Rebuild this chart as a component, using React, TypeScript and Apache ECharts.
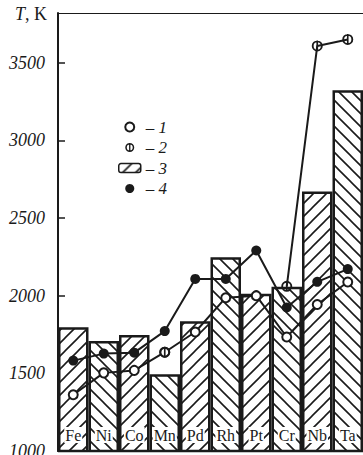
import React, { useEffect, useRef } from "react";
import * as echarts from "echarts";

const categories = ["Fe", "Ni", "Co", "Mn", "Pd", "Rh", "Pt", "Cr", "Nb", "Ta"];
const barValues = [1797, 1709, 1747, 1494, 1835, 2247, 2013, 2057, 2671, 3323];
const series1 = [1362, 1503, 1519, 1636, 1766, 1987, 2000, 1734, 1943, 2088];
const series2 = [null, null, null, 1636, null, null, null, 2060, 3608, 3650];
const series4 = [1582, 1627, 1633, 1772, 2108, 2108, 2291, 1924, 2089, 2171];
const yTicks = [1000, 1500, 2000, 2500, 3000, 3500];

const PHI =
  "path://M5 0 A5 5 0 1 1 5 10 A5 5 0 1 1 5 0 Z M5 1.7 A3.3 3.3 0 1 0 5 8.3 A3.3 3.3 0 1 0 5 1.7 Z M4.25 0 L5.75 0 L5.75 10 L4.25 10 Z";

const SERIF = '"Liberation Serif", "DejaVu Serif", serif';
const INK = "#1a1a1a";
const TILE = 13;

// dir = 1 -> "/" hatching, dir = -1 -> "\" hatching
const hatch = (dir: number) => {
  const d =
    dir > 0
      ? `M0 ${TILE} L${TILE} 0 M-2 2 L2 -2 M${TILE - 2} ${TILE + 2} L${TILE + 2} ${TILE - 2}`
      : `M0 0 L${TILE} ${TILE} M-2 ${TILE - 2} L2 ${TILE + 2} M${TILE - 2} -2 L${TILE + 2} 2`;
  const svg =
    `<svg xmlns="http://www.w3.org/2000/svg" width="${TILE}" height="${TILE}">` +
    `<rect width="${TILE}" height="${TILE}" fill="#ffffff"/>` +
    `<path d="${d}" stroke="${INK}" stroke-width="1.6" fill="none"/></svg>`;
  return {
    image: "data:image/svg+xml;base64," + btoa(svg),
    repeat: "repeat",
    imageWidth: TILE,
    imageHeight: TILE,
  };
};

const evenBars = barValues.map((v, i) => (i % 2 === 0 ? v : null));
const oddBars = barValues.map((v, i) => (i % 2 === 1 ? v : null));

export default function App() {
  const ref = useRef<HTMLDivElement>(null);
  useEffect(() => {
    if (!ref.current) return;
    const chart = echarts.init(ref.current, undefined, { renderer: "svg" });
    const barBase = {
      type: "bar",
      barWidth: "100%",
      barGap: "-100%",
      barCategoryGap: 0,
    };
    chart.setOption({
      animation: false,
      backgroundColor: "#fff",
      grid: { left: 58, right: 0, top: 13, bottom: 1.5 },
      legend: {
        left: 113,
        top: 112,
        orient: "vertical",
        itemWidth: 22,
        itemHeight: 9,
        itemGap: 0.5,
        selectedMode: false,
        formatter: (n: string) => `{a|– }{b|${n}}`,
        textStyle: {
          color: INK,
          lineHeight: 20,
          rich: {
            a: { fontFamily: SERIF, fontSize: 17, lineHeight: 20, color: INK },
            b: { fontFamily: SERIF, fontSize: 17, lineHeight: 20, fontStyle: "italic", color: INK },
          },
        },
        data: [
          { name: "1", icon: "emptyCircle", itemStyle: { color: INK, borderColor: INK, borderWidth: 2 } },
          { name: "2", icon: PHI, itemStyle: { color: INK } },
          { name: "3", itemStyle: { borderWidth: 1.5 } },
          { name: "4", icon: "circle", itemStyle: { color: INK } },
        ],
      },
      graphic: [
        {
          type: "text",
          left: 15,
          top: 5,
          style: {
            text: "{i|T}, K",
            fontFamily: SERIF,
            fontSize: 18,
            fill: INK,
            rich: { i: { fontFamily: SERIF, fontSize: 18, fontStyle: "italic", color: INK } },
          },
        },
      ],
      xAxis: [
        {
          type: "category",
          data: categories,
          z: 10,
          axisLine: { lineStyle: { color: INK, width: 2 } },
          axisTick: { show: false },
          axisLabel: {
            inside: true,
            margin: 8,
            fontFamily: SERIF,
            fontSize: 16,
            color: INK,
            backgroundColor: "#fff",
            padding: [0, 1, 0, 1],
          },
        },
        {
          type: "category",
          data: categories,
          position: "top",
          axisLine: { lineStyle: { color: INK, width: 1 } },
          axisTick: { show: false },
          axisLabel: { show: false },
        },
      ],
      yAxis: {
        type: "value",
        min: yTicks[0],
        max: 3820,
        interval: 500,
        splitLine: { show: false },
        axisLine: { show: true, lineStyle: { color: INK, width: 2 } },
        axisTick: { show: true, inside: true, length: 7, lineStyle: { color: INK, width: 1.5 } },
        axisLabel: {
          showMaxLabel: false,
          margin: 13,
          fontFamily: SERIF,
          fontSize: 18,
          fontStyle: "italic",
          color: INK,
          formatter: (v: number) => (yTicks.includes(v) ? String(v) : ""),
        },
      },
      series: [
        {
          ...barBase,
          name: "3",
          itemStyle: { color: hatch(1), borderColor: INK, borderWidth: 2.5 },
          data: evenBars,
        },
        {
          ...barBase,
          name: "3b",
          itemStyle: { color: hatch(-1), borderColor: INK, borderWidth: 2.5 },
          data: oddBars,
        },
        {
          name: "1",
          type: "line",
          data: series1,
          symbol: "emptyCircle",
          symbolSize: 9,
          lineStyle: { color: INK, width: 2 },
          itemStyle: { color: INK, borderColor: INK, borderWidth: 2 },
          z: 5,
        },
        {
          name: "4",
          type: "line",
          data: series4,
          symbol: "circle",
          symbolSize: 10,
          lineStyle: { color: INK, width: 2 },
          itemStyle: { color: INK },
          z: 5,
        },
        {
          name: "2",
          type: "line",
          data: series2,
          connectNulls: false,
          symbol: PHI,
          symbolSize: 11,
          lineStyle: { color: INK, width: 2 },
          itemStyle: { color: INK },
          z: 6,
        },
      ],
    });
    return () => chart.dispose();
  }, []);
  return (
    <div style={{ position: "fixed", left: 0, top: 0, width: 363, height: 455, overflow: "hidden", background: "#fff" }}>
      <div ref={ref} style={{ width: 363, height: 460 }} />
    </div>
  );
}
